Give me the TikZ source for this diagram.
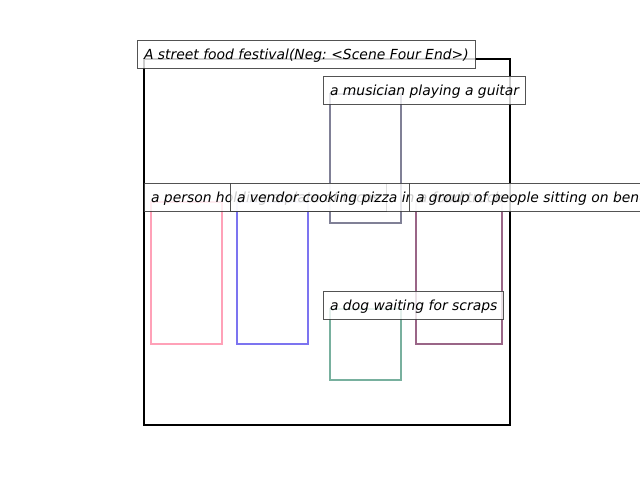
\documentclass[tikz,border=0pt]{standalone}
\usepackage{fontspec}
\setmainfont{DejaVu Sans}
\frenchspacing
\begin{document}
\begin{tikzpicture}[x=1pt,y=-1pt,
  region/.style={line width=2pt, opacity=0.75},
  caption/.style={anchor=west, draw=black!75, line width=1pt, fill=white,
    fill opacity=0.8, draw opacity=0.9, text opacity=1,
    inner xsep=6.5pt, inner ysep=0pt, minimum height=28pt,
    text height=12pt, text depth=2pt,
    font=\fontsize{13.9}{16}\selectfont\itshape}]
\useasboundingbox (0,0) rectangle (640,480);
\definecolor{pinkc}{RGB}{255,130,160}
\definecolor{bluec}{RGB}{80,70,235}
\definecolor{grayc}{RGB}{85,85,115}
\definecolor{mauvec}{RGB}{120,50,95}
\definecolor{tealc}{RGB}{75,150,125}
% scene frame
\draw[line width=2pt] (144,59) rectangle (510,425);
% object regions
\draw[region, draw=pinkc]  (151,202) rectangle (222,344);
\draw[region, draw=bluec]  (237,202) rectangle (308,344);
\draw[region, draw=grayc]  (330,94)  rectangle (401,223);
\draw[region, draw=mauvec] (416,202) rectangle (502,344);
\draw[region, draw=tealc]  (330,309) rectangle (401,380);
% captions
\node[caption] (title) at (137,54) {A street food festival(Neg: <Scene Four End>)};
\node[caption] (person) at (144,197) {a person holding a plate of tacos};
\node[caption] (vendor) at (230,197) {a vendor cooking pizza in a food truck};
\node[caption] (musician) at (323,90) {a musician playing a guitar};
\node[caption] (group) at (409,197) {a group of people sitting on benches};
\node[caption] (dog) at (323,305) {a dog waiting for scraps};
\end{tikzpicture}
\end{document}
